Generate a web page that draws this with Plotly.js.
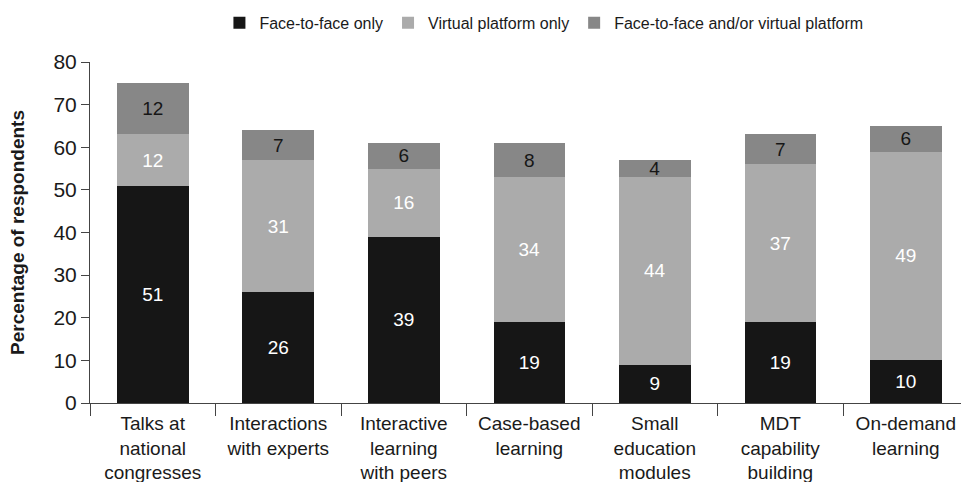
<!DOCTYPE html>
<html>
<head>
<meta charset="utf-8">
<script src="https://cdn.plot.ly/plotly-3.0.1.min.js"></script>
<style>html,body{margin:0;padding:0;background:#fff;}#chart{width:961px;height:482px;}</style>
</head>
<body>
<div id="chart"></div>
<script>
const categories = [
  "Talks at<br>national<br>congresses",
  "Interactions<br>with experts",
  "Interactive<br>learning<br>with peers",
  "Case-based<br>learning",
  "Small<br>education<br>modules",
  "MDT<br>capability<br>building",
  "On-demand<br>learning"
];
const faceToFace = [51, 26, 39, 19, 9, 19, 10];
const virtualOnly = [12, 31, 16, 34, 44, 37, 49];
const faceOrVirtual = [12, 7, 6, 8, 4, 7, 6];
const seriesNames = ["Face-to-face only", "Virtual platform only", "Face-to-face and/or virtual platform"];
const yTicks = [0, 10, 20, 30, 40, 50, 60, 70, 80];

const FONT = "Liberation Sans, Arial, Helvetica, sans-serif";
const colors = ["#161616", "#ababab", "#878787"];
const textColors = ["#ffffff", "#ffffff", "#161616"];
const series = [faceToFace, virtualOnly, faceOrVirtual];

const traces = series.map((vals, i) => ({
  type: "bar",
  name: seriesNames[i],
  x: categories,
  y: vals,
  text: vals.map(String),
  textposition: "inside",
  insidetextanchor: "middle",
  textangle: 0,
  constraintext: "none",
  textfont: {family: FONT, size: 19, color: textColors[i]},
  marker: {color: colors[i], line: {width: 0}},
  hoverinfo: "skip"
}));

const layout = {
  width: 961, height: 482,
  margin: {l: 90, r: 0, t: 62, b: 79},
  paper_bgcolor: "#ffffff",
  plot_bgcolor: "#ffffff",
  barmode: "stack",
  bargap: 0.43,
  font: {family: FONT, color: "#1a1a1a"},
  showlegend: true,
  legend: {
    orientation: "h",
    xref: "container", yref: "container",
    x: 0.566, xanchor: "center",
    y: 0.988, yanchor: "top",
    font: {family: FONT, size: 16, color: "#1a1a1a"},
    traceorder: "normal",
    itemclick: false
  },
  xaxis: {
    type: "category",
    range: [-0.5, 6.44],
    tickson: "boundaries",
    ticks: "outside",
    ticklen: 12,
    tickcolor: "#444",
    tickwidth: 1,
    ticklabelstandoff: 3,
    showline: true,
    linecolor: "#444",
    linewidth: 1,
    showgrid: false,
    zeroline: false,
    tickfont: {family: FONT, size: 19, color: "#1a1a1a"},
    fixedrange: true
  },
  yaxis: {
    range: [0, 80],
    tickvals: yTicks,
    ticktext: yTicks.map(String),
    ticks: "outside",
    ticklen: 8,
    tickcolor: "#444",
    showline: true,
    linecolor: "#444",
    linewidth: 1,
    showgrid: false,
    zeroline: false,
    tickfont: {family: FONT, size: 21, color: "#1a1a1a"},
    title: {text: "<b>Percentage of respondents</b>", font: {family: FONT, size: 19, color: "#1a1a1a"}, standoff: 23},
    fixedrange: true
  }
};

Plotly.newPlot("chart", traces, layout, {displayModeBar: false, staticPlot: true});
</script>
</body>
</html>
